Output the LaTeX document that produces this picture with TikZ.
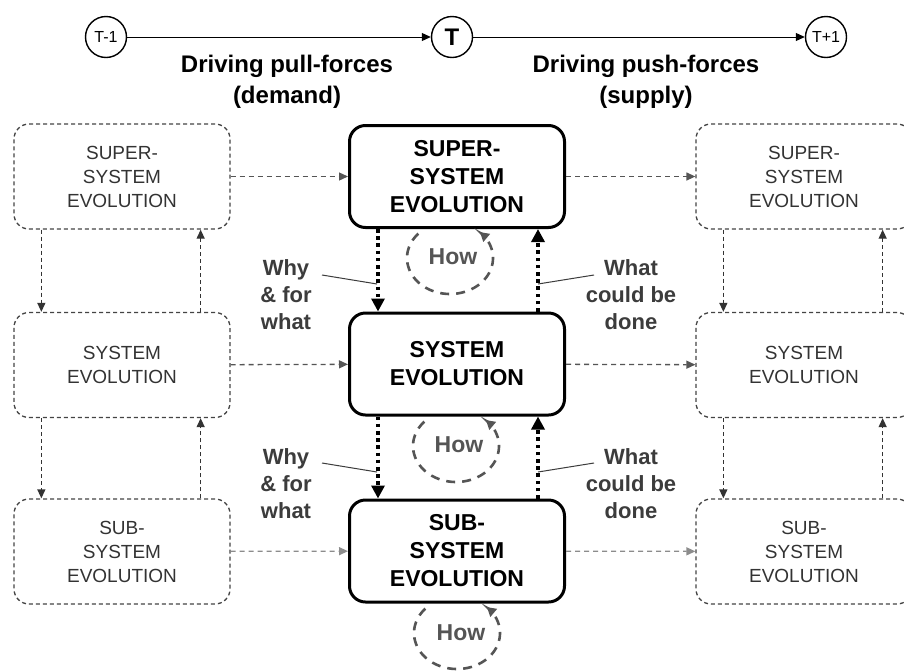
\documentclass[tikz,border=0pt]{standalone}
\usepackage{fontspec}
\setmainfont{Liberation Sans}
\usetikzlibrary{arrows.meta}
\definecolor{boxgray}{HTML}{444444}
\definecolor{arrgray}{HTML}{555555}
\definecolor{lblgray}{HTML}{3C3C3C}
\definecolor{howgray}{HTML}{555555}
\definecolor{sidetext}{HTML}{333333}
\begin{document}
\begin{tikzpicture}[x=1pt,y=-1pt,
  sidebox/.style={draw=boxgray,line width=1.3pt,dash pattern=on 4pt off 3pt,rounded corners=15pt,
    minimum width=216pt,minimum height=105pt,align=center,text=sidetext,
    font=\fontsize{19}{24}\selectfont,inner sep=0pt},
  midbox/.style={draw=black,line width=3pt,rounded corners=16pt,
    minimum width=215pt,minimum height=102pt,align=center,
    font=\fontsize{23}{28}\selectfont\bfseries,inner sep=0pt},
  tcircle/.style={draw=black,line width=1.4pt,circle,minimum size=41pt,inner sep=0pt},
  toparrow/.style={draw=black,line width=1pt,-{Triangle[length=9pt,width=8pt]}},
  hdash/.style={draw=arrgray,line width=1.3pt,dash pattern=on 5pt off 4pt,-{Triangle[length=9pt,width=8pt]}},
  vdash/.style={draw=black!80,line width=1.3pt,dash pattern=on 4pt off 3pt,-{Triangle[length=9pt,width=8pt]}},
  vdot/.style={draw=black,line width=3.6pt,dash pattern=on 3.6pt off 3.6pt,-{Triangle[length=13pt,width=13pt]}},
  howloop/.style={draw=howgray,line width=2.6pt,dash pattern=on 9pt off 7pt,{Triangle[length=9pt,width=10pt]}-},
  howtext/.style={text=howgray,font=\fontsize{23}{27}\selectfont\bfseries},
  lbl/.style={text=lblgray,align=center,font=\fontsize{22}{27}\selectfont\bfseries,inner sep=0pt},
  leader/.style={draw=lblgray,line width=1pt},
  title/.style={align=center,font=\fontsize{24}{31}\selectfont\bfseries,inner sep=0pt}
]
\clip (0,0) rectangle (904,670);
\fill[white] (0,0) rectangle (904,670);

% time line
\node[tcircle,font=\fontsize{16}{18}\selectfont] (t0) at (106,37) {T-1};
\node[tcircle,font=\fontsize{24}{26}\selectfont\bfseries] (t1) at (452,37) {T};
\node[tcircle,font=\fontsize{16}{18}\selectfont] (t2) at (826,37) {T+1};
\draw[toparrow] (t0) -- (t1);
\draw[toparrow] (t1) -- (t2);
\node[title] (pull) at (287,82) {Driving pull-forces\\(demand)};
\node[title] (push) at (646,82) {Driving push-forces\\(supply)};

% left column
\node[sidebox] (L1) at (122,176.5) {SUPER-\\SYSTEM\\EVOLUTION};
\node[sidebox] (L2) at (122,365) {SYSTEM\\EVOLUTION};
\node[sidebox] (L3) at (122,551.5) {SUB-\\SYSTEM\\EVOLUTION};
% middle column
\node[midbox] (M1) at (457,176.5) {SUPER-\\SYSTEM\\EVOLUTION};
\node[midbox] (M2) at (457,364) {SYSTEM\\EVOLUTION};
\node[midbox] (M3) at (457,551) {SUB-\\SYSTEM\\EVOLUTION};
% right column
\node[sidebox] (R1) at (804,176.5) {SUPER-\\SYSTEM\\EVOLUTION};
\node[sidebox] (R2) at (804,365) {SYSTEM\\EVOLUTION};
\node[sidebox] (R3) at (804,551.5) {SUB-\\SYSTEM\\EVOLUTION};

% horizontal arrows
\draw[hdash] (L1) -- (M1);
\draw[hdash] (M1) -- (R1);
\draw[hdash] (L2) -- (M2);
\draw[hdash] (M2) -- (R2);
\draw[hdash,draw=black!45] (L3) -- (M3);
\draw[hdash,draw=black!45] (M3) -- (R3);

% side vertical arrows
\foreach \a/\b in {L1/L2,L2/L3,R1/R2,R2/R3}{
  \draw[vdash] ([xshift=28pt]\a.south west) -- ([xshift=28pt]\b.north west);
  \draw[vdash] ([xshift=-30pt]\b.north east) -- ([xshift=-30pt]\a.south east);
}

% middle vertical arrows
\foreach \a/\b in {M1/M2,M2/M3}{
  \draw[vdot] ([xshift=30pt]\a.south west) -- ([xshift=30pt]\b.north west);
  \draw[vdot] ([xshift=-28pt]\b.north east) -- ([xshift=-28pt]\a.south east);
}

% how loops
\node[howtext] (h1) at (453,257) {How};
\node[howtext] (h2) at (459,445) {How};
\node[howtext] (h3) at (461,633) {How};
\draw[howloop] plot[domain=-46:226,samples=70,smooth] ({450+43*cos(\x)},{258+36*sin(\x)});
\draw[howloop] plot[domain=-46:226,samples=70,smooth] ({456+43*cos(\x)},{446+36*sin(\x)});
\draw[howloop] plot[domain=-46:226,samples=70,smooth] ({457+43*cos(\x)},{633+36*sin(\x)});

% labels
\node[lbl] (w1) at (286,295) {Why\\\& for\\what};
\node[lbl] (w2) at (286,484) {Why\\\& for\\what};
\node[lbl] (c1) at (631,295) {What\\could be\\done};
\node[lbl] (c2) at (631,484) {What\\could be\\done};
\coordinate (w1a) at (322,275); \coordinate (w1b) at (377,284);
\coordinate (w2a) at (322,463); \coordinate (w2b) at (377,472);
\coordinate (c1a) at (594,275); \coordinate (c1b) at (538,284);
\coordinate (c2a) at (594,463); \coordinate (c2b) at (538,472);
\draw[leader] (w1a) -- (w1b);
\draw[leader] (w2a) -- (w2b);
\draw[leader] (c1a) -- (c1b);
\draw[leader] (c2a) -- (c2b);
\end{tikzpicture}
\end{document}
